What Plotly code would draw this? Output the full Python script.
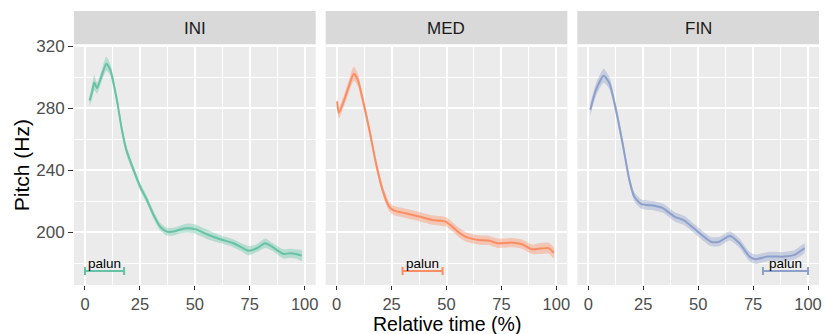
import plotly.graph_objects as go
from plotly.subplots import make_subplots

# ---- data ----
panels = ["INI", "MED", "FIN"]
colors = ["#66C2A5", "#FC8D62", "#8DA0CB"]
fills = ["rgba(102,194,165,0.4)", "rgba(252,141,98,0.4)", "rgba(141,160,203,0.4)"]

ini_x = [2.1, 3.2, 4.2, 5.5, 7.5, 9.7, 11.5, 14.5, 16.8, 18.8, 22.1, 25.1, 28.2, 31.2, 34.2, 37.2,
         40.3, 43.5, 46.4, 50.2, 55.5, 61.5, 67.5, 70.6, 74.4, 78.2, 82.0, 85.1, 90.3, 93.3, 96.0, 98.6]
ini_y = [284.9, 290.0, 296.5, 292.9, 300.5, 308.6, 304.7, 285.4, 266.0, 253.1, 240.2, 229.4, 220.8,
         211.2, 203.6, 200.4, 200.4, 201.8, 202.6, 202.0, 198.7, 195.5, 192.9, 190.7, 188.1, 189.7,
         192.9, 190.7, 186.0, 186.4, 186.0, 184.9]
ini_se = [3.5, 4.5, 5, 3.5, 3.5, 4.5, 3.5, 3, 3, 3, 2.5, 2.5, 2.5, 2.5, 2.5, 2.5, 2.5, 2.5, 3, 3, 3,
          2.5, 2.5, 2.5, 3, 2.5, 3, 2.5, 3, 3, 3, 3.5]

med_x = [0.2, 1.0, 3.5, 5.8, 7.8, 9.6, 11.9, 14.9, 17.9, 20.9, 23.9, 26.2, 31.5, 37.5, 43.5, 49.6,
         52.6, 55.5, 58.6, 64.7, 69.2, 73.1, 79.9, 84.4, 89.0, 93.0, 96.5, 98.8]
med_y = [284.3, 276.8, 285.4, 295.0, 302.1, 298.3, 285.4, 266.0, 244.5, 227.3, 216.5, 213.9, 212.2,
         210.1, 207.9, 206.8, 203.6, 200.0, 197.2, 195.0, 194.7, 192.9, 193.3, 192.3, 189.0, 189.5,
         189.7, 186.8]
med_se = [3.5, 3.5, 3.5, 4, 4.5, 4, 3.5, 3, 3, 3, 3, 3, 3, 3, 3, 3, 3, 3, 3, 3,
          3, 3, 3, 3, 3, 3.5, 3.5, 3.5]

fin_x = [0.9, 3.5, 7.0, 9.6, 12.6, 15.6, 18.7, 20.9, 24.0, 30.1, 33.9, 39.2, 43.7, 49.8, 55.8, 59.6,
         64.4, 68.8, 73.4, 76.3, 81.6, 89.0, 93.8, 98.4]
fin_y = [278.9, 291.8, 300.8, 296.1, 278.9, 257.4, 233.7, 223.0, 218.3, 217.0, 215.5, 210.1, 207.5,
         200.4, 193.9, 193.9, 197.6, 192.9, 184.3, 182.6, 184.3, 184.3, 185.4, 189.7]
fin_se = [4, 4, 4.5, 4, 3.5, 3.5, 3, 3, 3, 3, 3, 3, 3, 3, 3, 3, 3, 3, 3,
          3, 3, 3, 3, 3]

palun_start = [0.0, 30.0, 79.5]
palun_end = [17.8, 48.2, 100.0]
palun_y = 175.0
palun_label = "palun"

xs = [ini_x, med_x, fin_x]
ys = [ini_y, med_y, fin_y]
ses = [ini_se, med_se, fin_se]

# ---- figure ----
W, H = 825, 334
ml, mr, mt, mb = 74, 3, 45, 49
gap = 10.0
pw = (W - ml - mr - 2 * gap) / 3
plot_w = W - ml - mr
frac_w = pw / plot_w
frac_g = gap / plot_w

fig = make_subplots(rows=1, cols=3, shared_yaxes=True, horizontal_spacing=frac_g)

font = "Liberation Sans, Arial, sans-serif"

for i in range(3):
    c = i + 1
    x, y, se = xs[i], ys[i], ses[i]
    upper = [a + b for a, b in zip(y, se)]
    lower = [a - b for a, b in zip(y, se)]
    fig.add_trace(go.Scatter(x=x + x[::-1], y=upper + lower[::-1], fill="toself",
                             fillcolor=fills[i], line=dict(width=0, shape="spline", smoothing=0.6),
                             mode="lines", hoverinfo="skip", showlegend=False), row=1, col=c)
    fig.add_trace(go.Scatter(x=x, y=y, mode="lines",
                             line=dict(color=colors[i], width=2, shape="spline", smoothing=0.6),
                             showlegend=False), row=1, col=c)
    mid = (palun_start[i] + palun_end[i]) / 2
    half = (palun_end[i] - palun_start[i]) / 2
    fig.add_trace(go.Scatter(x=[mid], y=[palun_y], mode="markers",
                             marker=dict(size=0.1, color=colors[i]),
                             error_x=dict(type="data", array=[half], color=colors[i],
                                          thickness=2, width=4),
                             showlegend=False), row=1, col=c)
    xref = "x" if c == 1 else f"x{c}"
    yref = "y" if c == 1 else f"y{c}"
    fig.add_annotation(x=mid, y=palun_y, xref=xref, yref=yref, text=palun_label,
                       showarrow=False, yanchor="bottom", yshift=-2,
                       font=dict(family=font, size=13.5, color="black"))
    # strip
    fig.add_shape(type="rect", xref=f"{xref} domain", yref="paper", x0=0, x1=1,
                  y0=1.003, y1=(H - mb - 11) / (H - mt - mb), fillcolor="#D9D9D9",
                  line=dict(width=0), layer="below")
    fig.add_annotation(xref=f"{xref} domain", yref="paper", x=0.5,
                       y=(H - mb - 28.5) / (H - mt - mb), text=panels[i], showarrow=False,
                       xanchor="center", yanchor="middle",
                       font=dict(family=font, size=17, color="#1A1A1A"))

for i in range(3):
    d0 = i * (frac_w + frac_g)
    fig.update_xaxes(domain=[d0, d0 + frac_w], row=1, col=i + 1)

fig.update_xaxes(range=[-5, 105], tickmode="linear", tick0=0, dtick=25,
                 showgrid=True, gridcolor="white", gridwidth=1.5,
                 minor=dict(showgrid=True, gridcolor="white", gridwidth=0.8, tick0=0, dtick=12.5),
                 ticks="outside", ticklen=4, tickcolor="#333333", tickwidth=1.4,
                 tickfont=dict(family=font, size=16.5, color="#4D4D4D"),
                 zeroline=False, showline=False)
fig.update_yaxes(range=[166.0, 320.65], tickmode="linear", tick0=0, dtick=40,
                 showgrid=True, gridcolor="white", gridwidth=1.5,
                 minor=dict(showgrid=True, gridcolor="white", gridwidth=0.8, tick0=0, dtick=20),
                 zeroline=False, showline=False)
fig.update_yaxes(ticks="outside", ticklen=5, tickcolor="#333333", tickwidth=1.4,
                 tickfont=dict(family=font, size=17, color="#4D4D4D"), row=1, col=1)

ph = H - mt - mb
fig.add_annotation(xref="paper", yref="paper", x=(21 - ml) / plot_w, y=0.5,
                   text="Pitch (Hz)", textangle=-90, showarrow=False,
                   xanchor="center", yanchor="middle",
                   font=dict(family=font, size=21, color="black"))
fig.add_annotation(xref="paper", yref="paper", x=0.5, y=(H - mb - 323.5) / ph,
                   text="Relative time (%)", showarrow=False,
                   xanchor="center", yanchor="middle",
                   font=dict(family=font, size=19.5, color="black"))

fig.update_layout(width=W, height=H, margin=dict(l=ml, r=mr, t=mt, b=mb),
                  plot_bgcolor="#EBEBEB", paper_bgcolor="white", showlegend=False,
                  font=dict(family=font))

fig.write_html("out.html", config={"displayModeBar": False},
               post_script="document.body.style.margin='0';document.body.style.padding='0';document.body.style.overflow='hidden';")
